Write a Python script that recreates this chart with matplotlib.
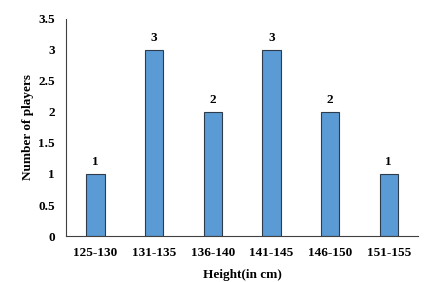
import matplotlib
matplotlib.use("Agg")
import matplotlib.pyplot as plt

categories = ["125-130", "131-135", "136-140", "141-145", "146-150", "151-155"]
values = [1, 3, 2, 3, 2, 1]
yticks = [0, 0.5, 1, 1.5, 2, 2.5, 3, 3.5]
ytick_labels = ["0", "0.5", "1", "1.5", "2", "2.5", "3", "3.5"]

plt.rcParams['font.family'] = ['Liberation Serif', 'DejaVu Serif']

fig = plt.figure(figsize=(4.24, 2.82), dpi=100)
ax = fig.add_axes([0.156, 0.163, 0.83, 0.77])
x = list(range(len(categories)))
bars = ax.bar(x, values, width=0.31, color="#5B9BD5", edgecolor="#2E3B4A", linewidth=0.8)
for xi, v in zip(x, values):
    ax.text(xi, v + 0.1, str(v), ha="center", va="bottom", fontsize=9.5, fontweight="bold")

ax.set_xlim(-0.5, len(categories) - 0.5)
ax.set_ylim(0, 3.5)
ax.set_yticks(yticks)
ax.set_yticklabels(ytick_labels)
ax.set_xticks(x)
ax.set_xticklabels(categories)
ax.tick_params(axis="both", length=0, labelsize=9.5, pad=8)
for lbl in ax.get_xticklabels() + ax.get_yticklabels():
    lbl.set_fontweight("bold")
ax.spines["top"].set_visible(False)
ax.spines["right"].set_visible(False)
ax.spines["left"].set_color("#404040")
ax.spines["bottom"].set_color("#404040")
ax.set_xlabel("Height(in cm)", fontsize=9.5, fontweight="bold", labelpad=7)
ax.set_ylabel("Number of players", fontsize=9.5, fontweight="bold", labelpad=3)

fig.savefig("out.png", dpi=100)
